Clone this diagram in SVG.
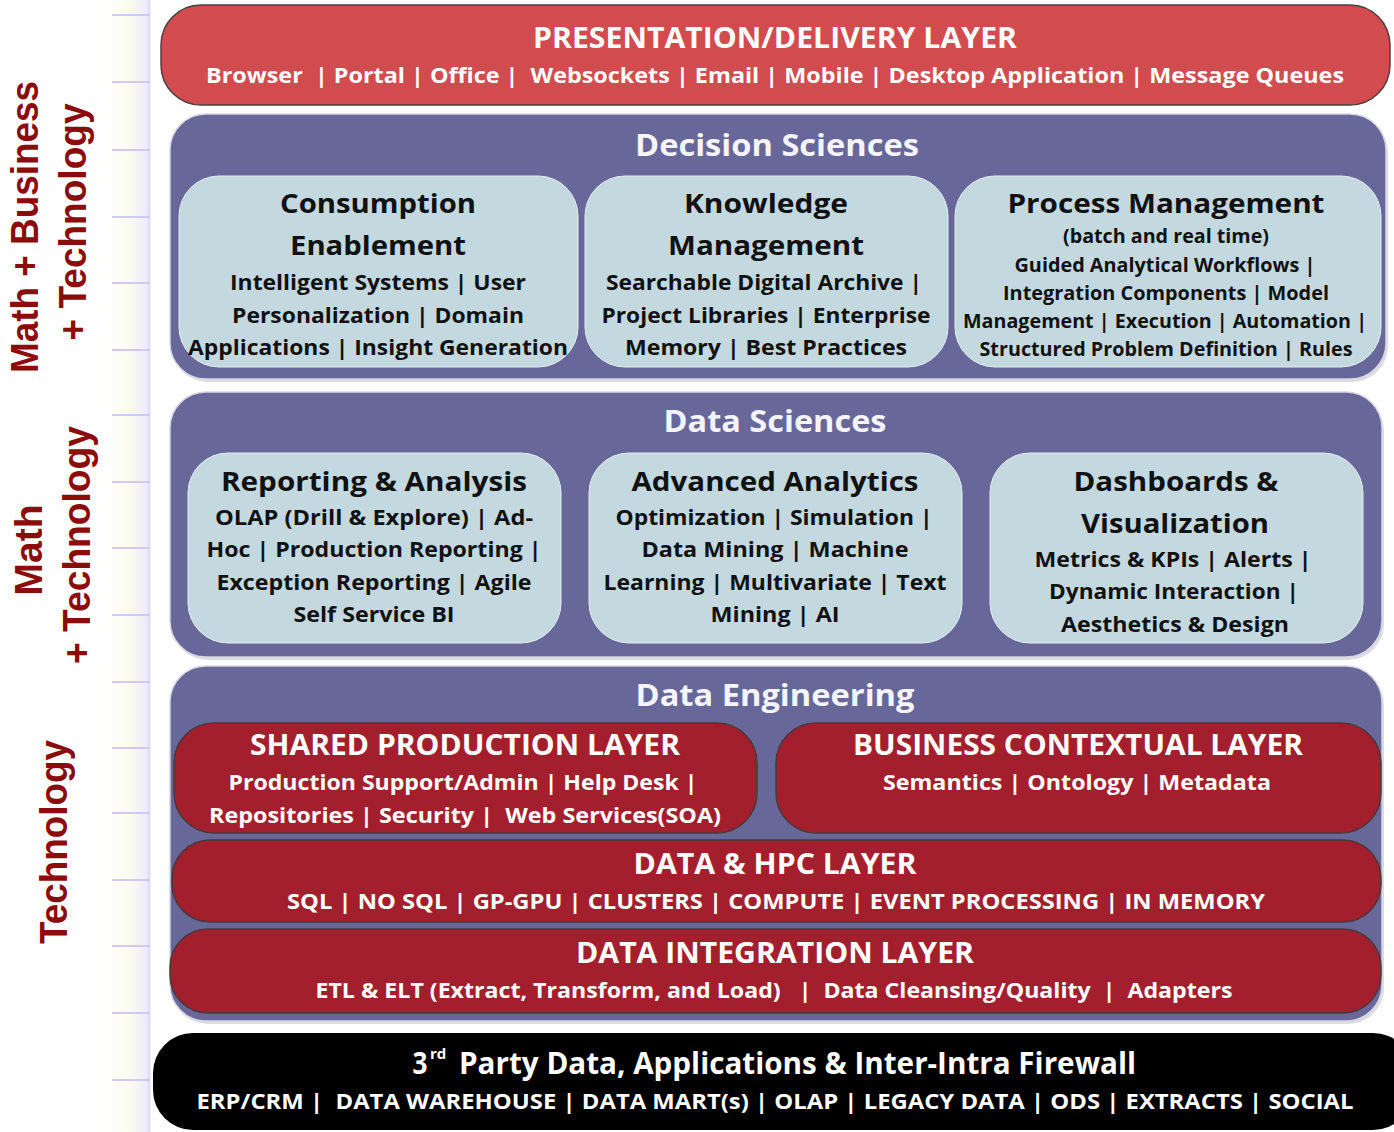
<svg xmlns="http://www.w3.org/2000/svg" width="1394" height="1132" viewBox="0 0 1394 1132">
<style>
text{font-family:"Open Sans","Noto Sans","Liberation Sans",sans-serif;font-weight:bold;text-anchor:middle}
.side{font-family:"Liberation Sans",Arial,sans-serif;fill:#8c0b0b;font-size:39px}
.purple{fill:#67679a;stroke:#d6d6e4;stroke-width:1.5}
.shadow{fill:#9a9aa8;opacity:0.35}
.light{fill:#c4d9df;stroke:#e6eef0;stroke-width:1}
.red{fill:#a41f2e;stroke:#4a3a3a;stroke-width:1.5}
.sec{fill:#f4f4fa;font-size:31px}
.hd{fill:#111;font-size:27px}
.bd{fill:#111;font-size:21px}
.bs{fill:#111;font-size:19px}
.wt{fill:#fff;font-size:28px}
.ws{fill:#fff;font-size:21px}
.tick{stroke:#cfcaf2;stroke-width:2}
</style>
<defs>
<linearGradient id="strip" x1="0" y1="0" x2="1" y2="0">
<stop offset="0" stop-color="#ffffff"/>
<stop offset="0.6" stop-color="#fbfbf0"/>
<stop offset="1" stop-color="#ebe8fc"/>
</linearGradient>
</defs>
<rect width="1394" height="1132" fill="#fff"/>
<g id="ruler">
<rect x="100" y="0" width="50" height="1132" fill="url(#strip)"/>
<line x1="149" y1="0" x2="149" y2="1132" stroke="#e0dcfa" stroke-width="3"/>
<g class="tick">
<line x1="112" y1="15" x2="150" y2="15"/><line x1="112" y1="82" x2="150" y2="82"/><line x1="112" y1="150" x2="150" y2="150"/><line x1="112" y1="217" x2="150" y2="217"/><line x1="112" y1="283" x2="150" y2="283"/><line x1="112" y1="350" x2="150" y2="350"/><line x1="112" y1="415" x2="150" y2="415"/><line x1="112" y1="482" x2="150" y2="482"/><line x1="112" y1="548" x2="150" y2="548"/><line x1="112" y1="615" x2="150" y2="615"/><line x1="112" y1="682" x2="150" y2="682"/><line x1="112" y1="748" x2="150" y2="748"/><line x1="112" y1="813" x2="150" y2="813"/><line x1="112" y1="880" x2="150" y2="880"/><line x1="112" y1="946" x2="150" y2="946"/><line x1="112" y1="1013" x2="150" y2="1013"/><line x1="112" y1="1080" x2="150" y2="1080"/>
</g>
</g>
<g id="side-labels">
<text class="side" transform="translate(38,227) rotate(-90)" textLength="292" lengthAdjust="spacingAndGlyphs">Math + Business</text>
<text class="side" transform="translate(86,222) rotate(-90)" textLength="237" lengthAdjust="spacingAndGlyphs">+ Technology</text>
<text class="side" transform="translate(42,550) rotate(-90)">Math</text>
<text class="side" transform="translate(90,545) rotate(-90)" textLength="238" lengthAdjust="spacingAndGlyphs">+ Technology</text>
<text class="side" transform="translate(67,842) rotate(-90)" textLength="204" lengthAdjust="spacingAndGlyphs">Technology</text>
</g>
<g id="presentation">
<rect x="161" y="5" width="1229" height="100" rx="40" fill="#d24b4e" stroke="#4a4040" stroke-width="1.5"/>
<text x="775" y="48" class="wt" textLength="484" lengthAdjust="spacingAndGlyphs">PRESENTATION/DELIVERY LAYER</text>
<text x="775" y="83" class="ws" font-size="22" textLength="1138" lengthAdjust="spacingAndGlyphs" xml:space="preserve">Browser  | Portal | Office |  Websockets | Email | Mobile | Desktop Application | Message Queues</text>
</g>
<g id="decision-sciences">
<rect x="172" y="117" width="1216" height="265" rx="36" class="shadow"/>
<rect x="170" y="114" width="1216" height="265" rx="36" class="purple"/>
<text x="777" y="156" class="sec" textLength="284" lengthAdjust="spacingAndGlyphs">Decision Sciences</text>
</g>
<g id="consumption-enablement">
<rect x="179" y="176" width="399" height="191" rx="40" class="light"/>
<text x="378" y="213" class="hd" textLength="196" lengthAdjust="spacingAndGlyphs">Consumption</text>
<text x="378" y="255" class="hd" textLength="176" lengthAdjust="spacingAndGlyphs">Enablement</text>
<text x="378" y="290" class="bd" textLength="296" lengthAdjust="spacingAndGlyphs">Intelligent Systems | User</text>
<text x="378" y="323" class="bd" textLength="292" lengthAdjust="spacingAndGlyphs">Personalization | Domain</text>
<text x="378" y="355" class="bd" textLength="380" lengthAdjust="spacingAndGlyphs">Applications | Insight Generation</text>
</g>
<g id="knowledge-management">
<rect x="585" y="176" width="363" height="191" rx="40" class="light"/>
<text x="766" y="213" class="hd" textLength="164" lengthAdjust="spacingAndGlyphs">Knowledge</text>
<text x="766" y="255" class="hd" textLength="196" lengthAdjust="spacingAndGlyphs">Management</text>
<text x="764" y="290" class="bd" textLength="316" lengthAdjust="spacingAndGlyphs">Searchable Digital Archive |</text>
<text x="766" y="323" class="bd" textLength="329" lengthAdjust="spacingAndGlyphs">Project Libraries | Enterprise</text>
<text x="766" y="355" class="bd" textLength="282" lengthAdjust="spacingAndGlyphs">Memory | Best Practices</text>
</g>
<g id="process-management">
<rect x="955" y="176" width="426" height="191" rx="40" class="light"/>
<text x="1166" y="213" class="hd" textLength="317" lengthAdjust="spacingAndGlyphs">Process Management</text>
<text x="1166" y="243" class="bs" font-size="18" textLength="206" lengthAdjust="spacingAndGlyphs">(batch and real time)</text>
<text x="1165" y="272" class="bs" textLength="301" lengthAdjust="spacingAndGlyphs">Guided Analytical Workflows |</text>
<text x="1166" y="300" class="bs" textLength="326" lengthAdjust="spacingAndGlyphs">Integration Components | Model</text>
<text x="1165" y="328" class="bs" textLength="404" lengthAdjust="spacingAndGlyphs">Management | Execution | Automation |</text>
<text x="1166" y="356" class="bs" textLength="373" lengthAdjust="spacingAndGlyphs">Structured Problem Definition | Rules</text>
</g>
<g id="data-sciences">
<rect x="172" y="395" width="1212" height="265" rx="36" class="shadow"/>
<rect x="170" y="392" width="1212" height="265" rx="36" class="purple"/>
<text x="775" y="432" class="sec" textLength="223" lengthAdjust="spacingAndGlyphs">Data Sciences</text>
</g>
<g id="reporting-analysis">
<rect x="188" y="453" width="373" height="190" rx="40" class="light"/>
<text x="374" y="491" class="hd" textLength="306" lengthAdjust="spacingAndGlyphs">Reporting &amp; Analysis</text>
<text x="374" y="525" class="bd" textLength="318" lengthAdjust="spacingAndGlyphs">OLAP (Drill &amp; Explore) | Ad-</text>
<text x="374" y="557" class="bd" textLength="335" lengthAdjust="spacingAndGlyphs">Hoc | Production Reporting |</text>
<text x="374" y="590" class="bd" textLength="315" lengthAdjust="spacingAndGlyphs">Exception Reporting | Agile</text>
<text x="374" y="622" class="bd" textLength="161" lengthAdjust="spacingAndGlyphs">Self Service BI</text>
</g>
<g id="advanced-analytics">
<rect x="589" y="453" width="373" height="190" rx="40" class="light"/>
<text x="775" y="491" class="hd" textLength="287" lengthAdjust="spacingAndGlyphs">Advanced Analytics</text>
<text x="774" y="525" class="bd" textLength="317" lengthAdjust="spacingAndGlyphs">Optimization | Simulation |</text>
<text x="775" y="557" class="bd" textLength="267" lengthAdjust="spacingAndGlyphs">Data Mining | Machine</text>
<text x="775" y="590" class="bd" textLength="343" lengthAdjust="spacingAndGlyphs">Learning | Multivariate | Text</text>
<text x="775" y="622" class="bd" textLength="129" lengthAdjust="spacingAndGlyphs">Mining | AI</text>
</g>
<g id="dashboards-visualization">
<rect x="990" y="453" width="373" height="190" rx="40" class="light"/>
<text x="1176" y="491" class="hd" textLength="205" lengthAdjust="spacingAndGlyphs">Dashboards &amp;</text>
<text x="1175" y="533" class="hd" textLength="188" lengthAdjust="spacingAndGlyphs">Visualization</text>
<text x="1173" y="567" class="bd" textLength="277" lengthAdjust="spacingAndGlyphs">Metrics &amp; KPIs | Alerts |</text>
<text x="1174" y="599" class="bd" textLength="250" lengthAdjust="spacingAndGlyphs">Dynamic Interaction |</text>
<text x="1175" y="632" class="bd" textLength="228" lengthAdjust="spacingAndGlyphs">Aesthetics &amp; Design</text>
</g>
<g id="data-engineering">
<rect x="172" y="669" width="1212" height="355" rx="36" class="shadow"/>
<rect x="170" y="666" width="1212" height="355" rx="36" class="purple"/>
<text x="775" y="706" class="sec" textLength="279" lengthAdjust="spacingAndGlyphs">Data Engineering</text>
</g>
<g id="shared-production-layer">
<rect x="174" y="723" width="583" height="110" rx="40" class="red"/>
<text x="465" y="755" class="wt" textLength="430" lengthAdjust="spacingAndGlyphs">SHARED PRODUCTION LAYER</text>
<text x="463" y="790" class="ws" textLength="469" lengthAdjust="spacingAndGlyphs">Production Support/Admin | Help Desk |</text>
<text x="465" y="823" class="ws" textLength="512" lengthAdjust="spacingAndGlyphs" xml:space="preserve">Repositories | Security |  Web Services(SOA)</text>
</g>
<g id="business-contextual-layer">
<rect x="776" y="723" width="605" height="110" rx="40" class="red"/>
<text x="1078" y="755" class="wt" textLength="450" lengthAdjust="spacingAndGlyphs">BUSINESS CONTEXTUAL LAYER</text>
<text x="1077" y="790" class="ws" textLength="388" lengthAdjust="spacingAndGlyphs">Semantics | Ontology | Metadata</text>
</g>
<g id="data-hpc-layer">
<rect x="172" y="840" width="1209" height="82" rx="38" class="red"/>
<text x="775" y="874" class="wt" textLength="283" lengthAdjust="spacingAndGlyphs">DATA &amp; HPC LAYER</text>
<text x="776" y="909" class="ws" textLength="978" lengthAdjust="spacingAndGlyphs">SQL | NO SQL | GP-GPU | CLUSTERS | COMPUTE | EVENT PROCESSING | IN MEMORY</text>
</g>
<g id="data-integration-layer">
<rect x="170" y="929" width="1211" height="84" rx="38" class="red"/>
<text x="775" y="963" class="wt" textLength="398" lengthAdjust="spacingAndGlyphs">DATA INTEGRATION LAYER</text>
<text x="774" y="998" class="ws" textLength="917" lengthAdjust="spacingAndGlyphs" xml:space="preserve">ETL &amp; ELT (Extract, Transform, and Load)   |  Data Cleansing/Quality  |  Adapters</text>
</g>
<g id="third-party">
<rect x="153" y="1033" width="1260" height="97" rx="40" fill="#000"/>
<text x="420" y="1074" fill="#fff" font-size="30" textLength="15" lengthAdjust="spacingAndGlyphs">3</text>
<text x="430" y="1059" fill="#fff" font-size="15" style="text-anchor:start">rd</text>
<text x="459" y="1074" fill="#fff" font-size="30" style="text-anchor:start" textLength="677" lengthAdjust="spacingAndGlyphs">Party Data, Applications &amp; Inter-Intra Firewall</text>
<text x="775" y="1109" class="ws" font-size="22" textLength="1157" lengthAdjust="spacingAndGlyphs" xml:space="preserve">ERP/CRM |  DATA WAREHOUSE | DATA MART(s) | OLAP | LEGACY DATA | ODS | EXTRACTS | SOCIAL</text>
</g>
<g id="connectors"/>
</svg>
